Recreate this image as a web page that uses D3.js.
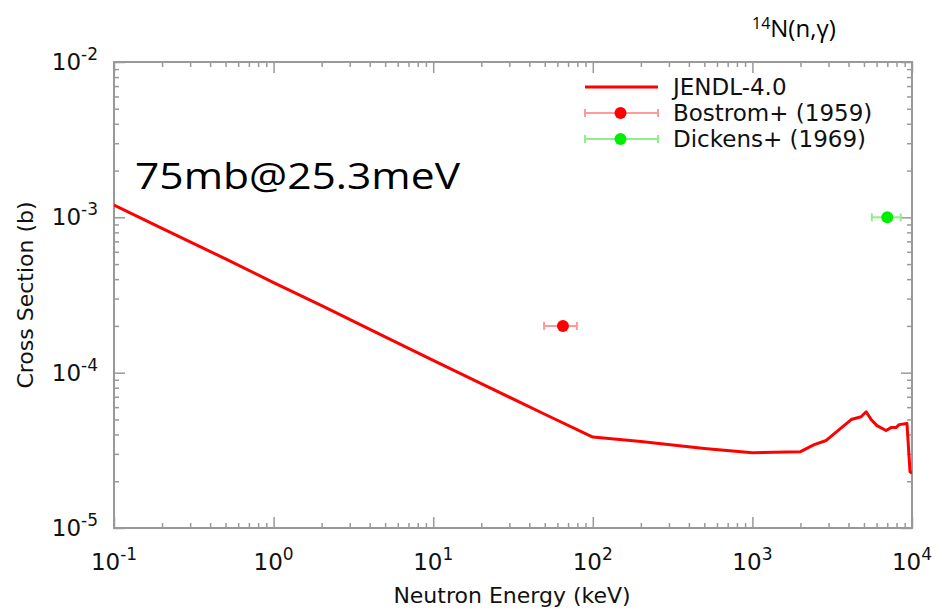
<!DOCTYPE html>
<html><head><meta charset="utf-8">
<script src="https://cdn.jsdelivr.net/npm/d3@7"></script>
<style>body{margin:0;background:#fff;}svg{display:block;}</style>
</head><body><svg id="c" width="941" height="609"></svg>
<script>
// JENDL-4.0 evaluated curve (keV, barn)
const jendlE = [0.1,0.2,0.5,1,2,5,10,20,50,100,200,500,1000,2000,2440,2900,4160,4800,5160,5540,6030,6880,7390,7940,8300,9300,9720,10000];
const jendlS = [1.2e-3,8.5e-4,5.4e-4,3.8e-4,2.7e-4,1.7e-4,1.2e-4,8.5e-5,5.4e-5,3.85e-5,3.6e-5,3.25e-5,3.05e-5,3.1e-5,3.44e-5,3.66e-5,4.99e-5,5.2e-5,5.6e-5,5.0e-5,4.56e-5,4.24e-5,4.43e-5,4.43e-5,4.63e-5,4.7e-5,2.3e-5,2.25e-5];
// experimental points
const expNames = ["Bostrom+ (1959)","Dickens+ (1969)"];
const expE = [65, 7000];
const expELo = [49.5, 5600];
const expEHi = [79.5, 8500];
const expS = [2.0e-4, 1.0e-3];
const expColors = ["#ff0000","#00ee00"];
const expBarColors = ["#ff9a9a","#8cf08c"];
const xTickExp = [-1,0,1,2,3,4];
const yTickExp = [-2,-3,-4,-5];

const svg = d3.select("#c");
const L=114, R=912, T=62, B=528;
const x = d3.scaleLog().domain([0.1,1e4]).range([L,R]);
const y = d3.scaleLog().domain([1e-5,1e-2]).range([B,T]);
const frameC = "#999";

const g = svg.append("g");
function minorVals(lo,hi){const v=[];for(let e=lo;e<hi;e++)for(let k=2;k<=9;k++)v.push(k*Math.pow(10,e));return v;}
const xMinor = minorVals(-1,4), yMinor = minorVals(-5,-2);
const xMajor = xTickExp.map(e=>Math.pow(10,e)), yMajor = yTickExp.map(e=>Math.pow(10,e));
const axB = d3.axisBottom(x).tickValues(xMinor).tickSize(-5).tickFormat("");
const axT = d3.axisTop(x).tickValues(xMinor).tickSize(-5).tickFormat("");
const axL = d3.axisLeft(y).tickValues(yMinor).tickSize(-5).tickFormat("");
const axR = d3.axisRight(y).tickValues(yMinor).tickSize(-5).tickFormat("");
const axB2 = d3.axisBottom(x).tickValues(xMajor).tickSize(-11).tickFormat("");
const axT2 = d3.axisTop(x).tickValues(xMajor).tickSize(-11).tickFormat("");
const axL2 = d3.axisLeft(y).tickValues(yMajor).tickSize(-11).tickFormat("");
const axR2 = d3.axisRight(y).tickValues(yMajor).tickSize(-11).tickFormat("");
[[axB,`0,${B}`],[axT,`0,${T}`],[axL,`${L},0`],[axR,`${R},0`],[axB2,`0,${B}`],[axT2,`0,${T}`],[axL2,`${L},0`],[axR2,`${R},0`]].forEach(([a,t])=>{
  const gg=g.append("g").attr("transform",`translate(${t})`).call(a);
  gg.select(".domain").remove();
  gg.selectAll("line").attr("stroke",frameC).attr("stroke-width",1.5);
});
svg.append("rect").attr("x",L).attr("y",T).attr("width",R-L).attr("height",B-T)
  .attr("fill","none").attr("stroke",frameC).attr("stroke-width",2);

const font = "DejaVu Sans, sans-serif";
xTickExp.forEach(e=>{
  const t=svg.append("text").attr("x",x(Math.pow(10,e))).attr("y",570).attr("text-anchor","middle")
    .attr("font-family",font).attr("font-size",23).attr("fill","#111");
  t.append("tspan").text("10");
  t.append("tspan").attr("dy",-10).attr("font-size",17).text(e);
});
yTickExp.forEach(e=>{
  const t=svg.append("text").attr("x",98).attr("y",y(Math.pow(10,e))+8).attr("text-anchor","end")
    .attr("font-family",font).attr("font-size",23).attr("fill","#111");
  t.append("tspan").text("10");
  t.append("tspan").attr("dy",-10).attr("font-size",17).text(e);
});

svg.append("text").attr("x",(L+R)/2-1).attr("y",603).attr("text-anchor","middle")
  .attr("font-family",font).attr("font-size",22).attr("fill","#111").text("Neutron Energy (keV)");
svg.append("text").attr("transform","translate(33,295) rotate(-90)").attr("text-anchor","middle")
  .attr("font-family",font).attr("font-size",22).attr("fill","#111").text("Cross Section (b)");

svg.append("clipPath").attr("id","clip").append("rect").attr("x",L).attr("y",T).attr("width",R-L).attr("height",B-T);

const lineData = jendlE.map((e,i)=>[e,jendlS[i]]);
svg.append("path").datum(lineData).attr("clip-path","url(#clip)")
  .attr("d",d3.line().x(d=>x(d[0])).y(d=>y(d[1])))
  .attr("fill","none").attr("stroke","#ff0000").attr("stroke-width",3).attr("stroke-linejoin","round");

expE.forEach((e,i)=>{
  const gy=y(expS[i]);
  const gp=svg.append("g");
  gp.append("line").attr("x1",x(expELo[i])).attr("x2",x(expEHi[i])).attr("y1",gy).attr("y2",gy)
    .attr("stroke",expBarColors[i]).attr("stroke-width",2);
  [expELo[i],expEHi[i]].forEach(v=>gp.append("line").attr("x1",x(v)).attr("x2",x(v)).attr("y1",gy-4).attr("y2",gy+4)
    .attr("stroke",expBarColors[i]).attr("stroke-width",2));
  gp.append("circle").attr("cx",x(e)).attr("cy",gy).attr("r",6).attr("fill",expColors[i]);
});

const lg = svg.append("g");
const lx1=585, lx2=658, ly0=87, ldy=26;
lg.append("line").attr("x1",lx1).attr("x2",lx2).attr("y1",ly0).attr("y2",ly0).attr("stroke","#ff0000").attr("stroke-width",3);
lg.append("text").attr("x",673).attr("y",ly0+8).attr("font-family",font).attr("font-size",23).attr("fill","#111").text("JENDL-4.0");
expNames.forEach((n,i)=>{
  const yy=ly0+ldy*(i+1);
  lg.append("line").attr("x1",lx1).attr("x2",lx2).attr("y1",yy).attr("y2",yy).attr("stroke",expBarColors[i]).attr("stroke-width",2);
  [lx1,lx2].forEach(v=>lg.append("line").attr("x1",v).attr("x2",v).attr("y1",yy-4).attr("y2",yy+4).attr("stroke",expBarColors[i]).attr("stroke-width",2));
  lg.append("circle").attr("cx",(lx1+lx2)/2-1).attr("cy",yy).attr("r",6).attr("fill",expColors[i]);
  lg.append("text").attr("x",673).attr("y",yy+8).attr("font-family",font).attr("font-size",23).attr("fill","#111").text(n);
});

svg.append("text").attr("x",135).attr("y",189).attr("font-family","Open Sans, sans-serif").attr("font-size",37)
  .attr("textLength",325).attr("lengthAdjust","spacingAndGlyphs").attr("fill","#000").text("75mb@25.3meV");
const ti = svg.append("text").attr("x",752).attr("y",37).attr("font-family","Open Sans, sans-serif").attr("font-size",24).attr("fill","#000");
ti.append("tspan").attr("font-size",16).attr("dy",-8).text("14");
ti.append("tspan").attr("dy",8).text("N(n,γ)");
</script></body></html>
